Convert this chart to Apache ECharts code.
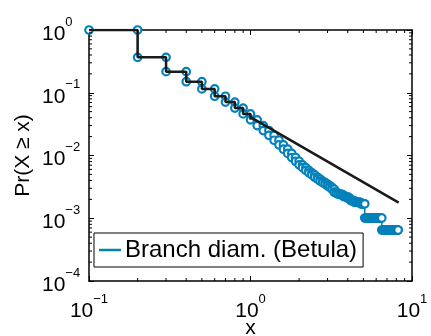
<!DOCTYPE html>
<html>
<head>
<meta charset="utf-8">
<script src="https://cdn.jsdelivr.net/npm/echarts@6/dist/echarts.min.js"></script>
<style>
  html, body { margin: 0; padding: 0; background: #fff; }
  #chart { width: 431px; height: 336px; }
</style>
</head>
<body>
<div id="chart"></div>
<script>
// empirical CCDF: unique x values and Pr(X >= x)
const xs = [
  0.1, 0.2, 0.3, 0.4, 0.5, 0.6, 0.7, 0.8, 0.9, 1.0,
  1.1, 1.2, 1.3, 1.4, 1.5, 1.6, 1.7, 1.8, 1.9, 2.0,
  2.1, 2.2, 2.3, 2.4, 2.5, 2.6, 2.7, 2.8, 2.9, 3.0,
  3.1, 3.2, 3.3, 3.4, 3.5, 3.6, 3.7, 3.8, 3.9, 4.0,
  4.1, 4.2, 4.3, 4.4, 4.5, 4.6, 4.7, 4.8, 4.9, 5.0,
  5.1, 5.2, 5.3, 5.4, 5.5, 5.6, 5.7, 5.8, 5.9, 6.0,
  6.1, 6.2, 6.3, 6.4, 6.5, 6.6, 6.7, 6.8, 6.9, 7.0,
  7.1, 7.2, 7.3, 7.4, 7.5, 7.6, 7.7, 7.8, 7.9, 8.0,
  8.1, 8.2
];
const ps = [
  1, 0.367, 0.217, 0.150, 0.115, 0.088, 0.071, 0.057, 0.046, 0.037,
  0.030, 0.025, 0.021, 0.0175, 0.0148, 0.0126, 0.0108, 0.0093, 0.0081, 0.0071,
  0.0064, 0.0058, 0.0053, 0.0049, 0.0045, 0.0042, 0.0039, 0.0037, 0.0035, 0.0033,
  0.0031, 0.0029, 0.0026, 0.0025, 0.0024, 0.0024, 0.0023, 0.0022, 0.0022, 0.0021,
  0.0020, 0.0019, 0.0019, 0.0018, 0.0018, 0.0018, 0.0018, 0.0017, 0.0017, 0.0017,
  0.00101, 0.00101, 0.00101, 0.00101, 0.00101, 0.00101, 0.00101, 0.00101, 0.00101, 0.00101,
  0.00101, 0.00101, 0.00101, 0.00101, 0.00065, 0.00065, 0.00065, 0.00065, 0.00065, 0.00065,
  0.00065, 0.00065, 0.00065, 0.00065, 0.00065, 0.00065, 0.00065, 0.00065, 0.00065, 0.00065,
  0.00065, 0.00065
];

// power-law fit (straight part of the black line)
const fitX = [1.0, 8.27];
const fitP = [0.041, 0.00177];
const fitFromX = 1.0; // black line follows the data steps below this

const seriesName = 'Branch diam. (Betula)';
const minorMult = [2, 3, 4, 5, 6, 7, 8, 9];
const xDecades = [0.1, 1];
const yDecades = [0.0001, 0.001, 0.01, 0.1];

const BLUE = '#0481ba';
const FONT = 'Liberation Sans';

// stair points: horizontal first, then vertical
function stairs(x, p, upto) {
  const out = [];
  for (let i = 0; i < x.length; i++) {
    if (upto !== undefined && x[i] > upto) break;
    out.push([x[i], p[i]]);
    if (i + 1 < x.length) {
      if (upto !== undefined && x[i + 1] > upto) break;
      out.push([x[i + 1], p[i]]);
    }
  }
  return out;
}

const bluePts = stairs(xs, ps);
const blackPts = stairs(xs, ps, fitFromX);
fitX.forEach((x, i) => blackPts.push([x, fitP[i]]));

const xMinor = [];
xDecades.forEach(d => minorMult.forEach(m => xMinor.push([d * m, 1e-4])));
const yMinor = [];
yDecades.forEach(d => minorMult.forEach(m => yMinor.push([0.1, d * m])));

const expLabel = v => {
  const e = Math.round(Math.log10(v));
  return '{a|10}{b|' + (e < 0 ? '\u2212' + (-e) : e) + '}';
};
// "10" sits on the line bottom, the exponent is lifted by its bottom padding
const rich = {
  a: { fontFamily: FONT, fontSize: 21, color: '#000', lineHeight: 21, verticalAlign: 'bottom' },
  b: { fontFamily: FONT, fontSize: 13, color: '#000', lineHeight: 13, verticalAlign: 'bottom', padding: [0, 0, 16, 0] }
};

const chart = echarts.init(document.getElementById('chart'));

const axisCommon = {
  type: 'log',
  logBase: 10,
  axisLine: { lineStyle: { color: '#000', width: 1.5 } },
  axisTick: { inside: true, length: 5, lineStyle: { color: '#000', width: 1 } },
  splitLine: { show: false }
};

const tickStyle = { stroke: '#000', lineWidth: 1 };

chart.setOption({
  animation: false,
  grid: { left: 89, right: 19, top: 30, bottom: 55, containLabel: false, outerBoundsMode: 'none' },
  xAxis: [
    Object.assign({}, axisCommon, {
      min: 0.1, max: 10,
      position: 'bottom',
      axisLabel: { formatter: expLabel, rich: rich, margin: 20 },
      name: 'x',
      nameLocation: 'middle',
      nameGap: 37,
      nameMoveOverlap: false,
      nameTextStyle: { fontFamily: FONT, fontSize: 21, color: '#000' }
    }),
    Object.assign({}, axisCommon, {
      min: 0.1, max: 10,
      position: 'top',
      axisLabel: { show: false }
    })
  ],
  yAxis: [
    Object.assign({}, axisCommon, {
      min: 0.0001, max: 1,
      position: 'left',
      axisLabel: { formatter: expLabel, rich: rich, margin: 47, align: 'left', padding: [8, 0, 0, 0] },
      name: 'Pr(X \u2265 x)',
      nameLocation: 'middle',
      nameGap: 55,
      nameMoveOverlap: false,
      nameRotate: 90,
      nameTextStyle: { fontFamily: FONT, fontSize: 21, color: '#000' }
    }),
    Object.assign({}, axisCommon, {
      min: 0.0001, max: 1,
      position: 'right',
      axisLabel: { show: false }
    })
  ],
  legend: {
    left: 94,
    top: 233,
    orient: 'horizontal',
    backgroundColor: '#fff',
    borderColor: '#000',
    borderWidth: 1,
    borderRadius: 0,
    padding: [5, 6, 5, 5],
    itemWidth: 22,
    itemHeight: 2.5,
    itemGap: 0,
    icon: 'rect',
    itemStyle: { color: BLUE, borderWidth: 0 },
    textStyle: { fontFamily: FONT, fontSize: 24, lineHeight: 24, color: '#000', padding: [0, 0, 0, -1] },
    data: [seriesName]
  },
  series: [
    {
      name: seriesName,
      type: 'line',
      data: bluePts,
      color: BLUE,
      lineStyle: { color: BLUE, width: 1.5 },
      symbol: 'circle',
      symbolSize: 7.5,
      showSymbol: true,
      itemStyle: { color: '#fff', borderColor: BLUE, borderWidth: 2.2 },
      z: 2
    },
    {
      name: 'fit',
      type: 'line',
      data: blackPts,
      symbol: 'none',
      lineStyle: { color: '#1a1a1a', width: 2.5 },
      z: 3
    },
    {
      name: 'xminor',
      type: 'custom',
      data: xMinor,
      silent: true,
      clip: false,
      renderItem: (params, api) => {
        const v = api.value(0);
        const b = api.coord([v, 1e-4]);
        const t = api.coord([v, 1]);
        return {
          type: 'group',
          children: [
            { type: 'line', shape: { x1: b[0], y1: b[1], x2: b[0], y2: b[1] - 3 }, style: tickStyle },
            { type: 'line', shape: { x1: t[0], y1: t[1], x2: t[0], y2: t[1] + 3 }, style: tickStyle }
          ]
        };
      },
      z: 4
    },
    {
      name: 'yminor',
      type: 'custom',
      data: yMinor,
      silent: true,
      clip: false,
      renderItem: (params, api) => {
        const v = api.value(1);
        const l = api.coord([0.1, v]);
        const r = api.coord([10, v]);
        return {
          type: 'group',
          children: [
            { type: 'line', shape: { x1: l[0], y1: l[1], x2: l[0] + 3, y2: l[1] }, style: tickStyle },
            { type: 'line', shape: { x1: r[0], y1: r[1], x2: r[0] - 3, y2: r[1] }, style: tickStyle }
          ]
        };
      },
      z: 4
    }
  ]
});
</script>
</body>
</html>
